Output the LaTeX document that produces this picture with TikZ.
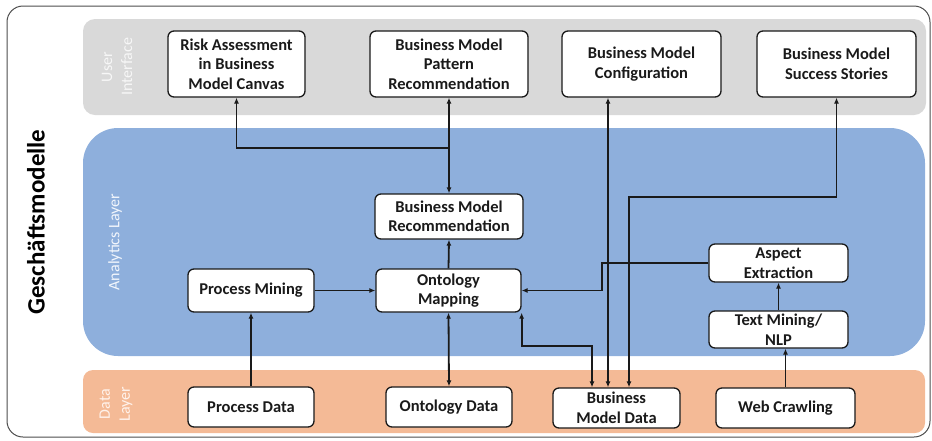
\documentclass[tikz,border=0pt]{standalone}
\usepackage{fontspec}
\setmainfont{Carlito}
\usetikzlibrary{arrows.meta}
\definecolor{uigray}{HTML}{D9D9D9}
\definecolor{anblue}{HTML}{8EAFDC}
\definecolor{dataor}{HTML}{F4BA96}
\definecolor{framec}{HTML}{4D4D4D}
\definecolor{linec}{HTML}{1A1A1A}
\definecolor{uilbl}{HTML}{F7F7F7}
\definecolor{anlbl}{HTML}{F2F6FC}
\definecolor{dllbl}{HTML}{FFF3EC}
\begin{document}
\begin{tikzpicture}[x=1pt,y=-1pt,
  box/.style={draw=linec, line width=1.3pt, fill=white, rounded corners=6pt,
    align=center, font=\bfseries\fontsize{16.5}{19.5}\selectfont, inner sep=0pt, text=linec},
  conn/.style={line width=1.8pt, draw=linec},
  one/.style={conn, -{Latex[length=6pt,width=5pt]}},
  two/.style={conn, {Latex[length=6pt,width=5pt]}-{Latex[length=6pt,width=5pt]}},
  layerlbl/.style={rotate=90, align=center, font=\fontsize{16}{20}\selectfont}]
\useasboundingbox (0,0) rectangle (932,440);
% frame and layers
\draw[framec, line width=1pt, rounded corners=16pt] (7,6) rectangle (930,437);
\fill[uigray, rounded corners=12pt] (83,19) rectangle (926,115);
\fill[anblue, rounded corners=35pt] (83,128) rectangle (925,356);
\fill[dataor, rounded corners=10pt] (83,370) rectangle (925,433);
% labels
\node[rotate=90, font=\bfseries\fontsize{25}{30}\selectfont, text=black] (title) at (36,222) {Geschäftsmodelle};
\node[layerlbl, text=uilbl] (uil) at (117,67) {User\\Interface};
\node[layerlbl, text=anlbl] (anl) at (115,242) {Analytics Layer};
\node[layerlbl, text=dllbl] (dll) at (116,404) {Data\\Layer};
% UI nodes
\node[box, minimum width=137pt, minimum height=66pt] (ra) at (236.5,64) {Risk Assessment\\in Business\\Model Canvas};
\node[box, minimum width=158pt, minimum height=66pt] (pr) at (449,64) {Business Model\\Pattern\\Recommendation};
\node[box, minimum width=159pt, minimum height=66pt] (bmc) at (641.5,64) {Business Model\\Configuration};
\node[box, minimum width=159pt, minimum height=66pt] (bss) at (836.5,64) {Business Model\\Success Stories};
% analytics nodes
\node[box, minimum width=148pt, minimum height=45pt] (bmr) at (449,216.5) {Business Model\\Recommendation};
\node[box, minimum width=126pt, minimum height=43pt] (pm) at (251,290.5) {Process Mining};
\node[box, minimum width=145pt, minimum height=43pt] (om) at (448.5,290.5) {Ontology\\Mapping};
\node[box, minimum width=139pt, minimum height=38pt] (ae) at (778.5,263) {Aspect\\Extraction};
\node[box, minimum width=139pt, minimum height=37pt] (tm) at (778.5,329.5) {Text Mining/\\NLP};
% data nodes
\node[box, minimum width=126pt, minimum height=40pt] (pd) at (251,407) {Process Data};
\node[box, minimum width=126pt, minimum height=40pt] (od) at (449,407) {Ontology Data};
\node[box, minimum width=127pt, minimum height=40pt] (bmd) at (616.5,408) {Business\\Model Data};
\node[box, minimum width=139pt, minimum height=40pt] (wc) at (785.5,408) {Web Crawling};
% connectors
\coordinate (j1) at (449,148);
\coordinate (k1) at (602,290.5);
\draw[two] (pr.south) -- (bmr.north);
\draw[one] (j1) -| (ra.south);
\draw[one] (om.north) -- (bmr.south);
\draw[one] (pm.east) -- (om.west);
\draw[one] (pd.north) -- (pm.south);
\draw[two] (om.south) -- (od.north);
\draw[two] (om.south east) -- ++(0,33) -| ([xshift=-24.5pt]bmd.north);
\draw[two] ([xshift=-8.5pt]bmd.north) -- ([xshift=-8.5pt]bmd.north |- bmc.south);
\draw[two] (bss.south) -- ++(0,99) -| ([xshift=12.5pt]bmd.north);
\draw[one] (ae.west) -| (k1) -- (om.east);
\draw[one] (tm.north) -- (ae.south);
\draw[one] (wc.north) -- (wc.north |- tm.south);
\end{tikzpicture}
\end{document}
